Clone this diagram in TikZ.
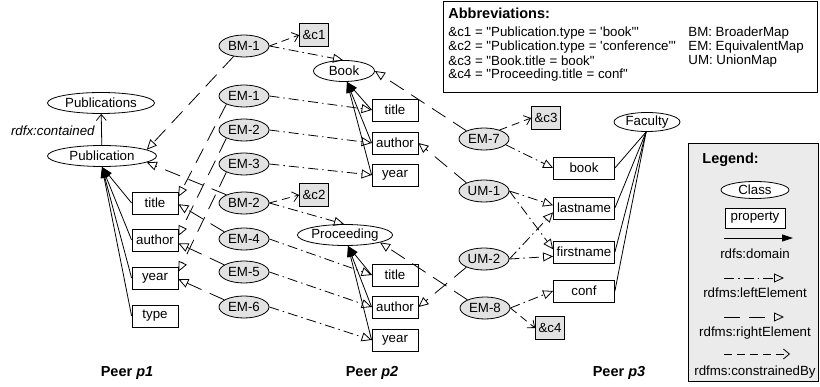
\documentclass[tikz,border=0pt]{standalone}
\usepackage{fontspec}
\setmainfont{Liberation Sans}[Ligatures=TeXOff]
\usetikzlibrary{arrows.meta,shapes.geometric}
\definecolor{mapfill}{HTML}{E2E2E2}
\definecolor{legfill}{HTML}{EBEBEB}
\begin{document}
\begin{tikzpicture}[x=1pt,y=-1pt,
  font=\fontsize{13.3}{15}\selectfont,
  line width=0.8pt,
  cls/.style={draw, ellipse, inner sep=0pt, minimum width=#1, minimum height=21pt},
  prop/.style={draw, rectangle, minimum width=#1, minimum height=22pt, inner sep=0pt},
  prop/.default=46pt,
  mapn/.style={draw, ellipse, fill=mapfill, minimum width=50pt, minimum height=22pt, inner sep=0pt},
  cons/.style={draw, fill=mapfill, minimum width=29pt, minimum height=23pt, inner sep=0pt},
  domarrow/.style={-{Triangle[length=11pt,width=7pt]}},
  leftel/.style={dash pattern=on 10pt off 4pt on 1.5pt off 4pt, -{Triangle[open,length=10pt,width=9pt]}},
  rightel/.style={dash pattern=on 16pt off 9pt, -{Triangle[open,length=10pt,width=9pt]}},
  consby/.style={dash pattern=on 8pt off 5pt, -{Straight Barb[length=6pt,width=10pt]}},
  contained/.style={-{Straight Barb[length=6pt,width=10pt]}},
  plainline/.style={},
  txt/.style={inner sep=0pt},
  peer/.style={inner sep=0pt, font=\fontsize{14.5}{16}\selectfont\bfseries}
]
\useasboundingbox (0,0) rectangle (820,387);

% ---------------- Peer p1
\node[cls=107pt] (pubs) at (101,103) {Publications};
\node[cls=109pt] (pub) at (102,156) {Publication};
\node[txt, anchor=east, font=\fontsize{13.3}{15}\selectfont\itshape] (contl) at (95,131) {rdfx:contained};
\node[prop] (t1) at (155,203) {title};
\node[prop] (a1) at (155,240) {author};
\node[prop] (y1) at (155,278) {year};
\node[prop] (ty1) at (155,316) {type};
\node[peer] (peer1) at (127,373) {Peer \textit{p1}};

\draw[contained] (pub) -- (pubs);
\foreach \n in {t1,a1,y1,ty1} \draw[domarrow] (\n.west) -- (pub.south);

% ---------------- mapping nodes (left)
\node[mapn] (bm1) at (244,46) {BM-1};
\node[mapn] (em1) at (244,96) {EM-1};
\node[mapn] (em2) at (244,130) {EM-2};
\node[mapn] (em3) at (244,164) {EM-3};
\node[mapn] (bm2) at (244,203) {BM-2};
\node[mapn] (em4) at (244,239) {EM-4};
\node[mapn] (em5) at (244,272) {EM-5};
\node[mapn] (em6) at (244,307) {EM-6};
\node[cons] (c1) at (314,35) {\&c1};
\node[cons] (c2) at (314,195) {\&c2};

% ---------------- Peer p2
\node[cls=61pt] (book) at (344,71) {Book};
\node[prop] (t2) at (395,110) {title};
\node[prop] (a2) at (395,143) {author};
\node[prop] (y2) at (395,175) {year};
\node[cls=90pt] (proc) at (345,235) {Proceeding};
\node[prop] (t3) at (395,275) {title};
\node[prop] (a3) at (395,307) {author};
\node[prop] (y3) at (395,340) {year};
\node[peer] (peer2) at (372,373) {Peer \textit{p2}};

\foreach \n in {t2,a2,y2} \draw[domarrow] (\n.west) -- (book.-75);
\foreach \n in {t3,a3,y3} \draw[domarrow] (\n.west) -- (proc.-75);

% ---------------- mapping nodes (right)
\node[mapn] (em7) at (484,139) {EM-7};
\node[mapn] (um1) at (484,191) {UM-1};
\node[mapn] (um2) at (484,259) {UM-2};
\node[mapn] (em8) at (485,308) {EM-8};
\node[cons] (c3) at (546,118) {\&c3};
\node[cons] (c4) at (550,328) {\&c4};

% ---------------- Peer p3
\node[cls=66pt, minimum height=19pt] (fac) at (647,122) {Faculty};
\node[prop=61pt] (bk3) at (584,168) {book};
\node[prop=61pt] (ln3) at (584,208) {lastname};
\node[prop=61pt] (fn3) at (584,252) {firstname};
\node[prop=61pt] (cf3) at (584,291) {conf};
\node[peer] (peer3) at (619,373) {Peer \textit{p3}};
\foreach \n in {bk3,ln3,fn3,cf3} \draw[plainline] (\n.east) -- (fac.-95);

% ---------------- connectors: left mapping nodes
\draw[rightel] (bm1.225) -- (pub.8);
\draw[leftel] (bm1.east) -- (book.95);
\draw[consby] (bm1.east) -- (c1.west);

\draw[rightel] (em1.205) -- (t1.15);
\draw[leftel] (em1.east) -- (t2.west);
\draw[rightel] (em2.205) -- (a1.10);
\draw[leftel] (em2.east) -- (a2.west);
\draw[rightel] (em3.205) -- (y1.15);
\draw[leftel] (em3.east) -- (y2.west);

\draw[rightel] (bm2.155) -- (pub.-8);
\draw[leftel] (bm2.east) -- (proc.95);
\draw[consby] (bm2.east) -- (c2.west);

\draw[rightel] (em4.160) -- (t1.-3);
\draw[leftel] (em4.east) -- (t3.west);
\draw[rightel] (em5.160) -- (a1.-8);
\draw[leftel] (em5.east) -- (a3.west);
\draw[rightel] (em6.160) -- (y1.-3);
\draw[leftel] (em6.east) -- (y3.west);

% ---------------- connectors: right mapping nodes
\draw[rightel] (em7.155) -- (book.east);
\draw[leftel] (em7.-15) -- (bk3.west);
\draw[consby] (em7.30) -- (c3.west);

\draw[rightel] (um1.155) -- (a2.east);
\draw[leftel] (um1.east) -- (ln3.175);
\draw[leftel] (um1.east) -- (fn3.175);

\draw[rightel] (um2.205) -- (a3.east);
\draw[leftel] (um2.east) -- (ln3.188);
\draw[leftel] (um2.east) -- (fn3.188);

\draw[rightel] (em8.155) -- (proc.-12);
\draw[leftel] (em8.east) -- (cf3.west);
\draw[consby] (em8.east) -- (c4.west);

% ---------------- abbreviations box
\node[draw, minimum width=374pt, minimum height=91pt, inner sep=0pt] (abbr) at (630,46.5) {};
\node[txt, anchor=west, font=\fontsize{14.5}{16}\selectfont\bfseries] (abh) at (448,13) {Abbreviations:};
\node[txt, anchor=west] (ab1) at (448,33) {\&c1 = "Publication.type = 'book'"};
\node[txt, anchor=west] (ab2) at (448,47) {\&c2 = "Publication.type = 'conference'"};
\node[txt, anchor=west] (ab3) at (448,61) {\&c3 = "Book.title = book"};
\node[txt, anchor=west] (ab4) at (448,75) {\&c4 = "Proceeding.title = conf"};
\node[txt, anchor=west] (ab5) at (688,33) {BM: BroaderMap};
\node[txt, anchor=west] (ab6) at (688,47) {EM: EquivalentMap};
\node[txt, anchor=west] (ab7) at (688,61) {UM: UnionMap};

% ---------------- legend box
\node[draw, fill=legfill, minimum width=130pt, minimum height=238pt, inner sep=0pt] (leg) at (753,262) {};
\node[txt, anchor=west, font=\fontsize{14.5}{16}\selectfont\bfseries] (legh) at (702,160) {Legend:};
\node[cls=68pt, minimum height=17pt, fill=white] (lcls) at (755,190) {Class};
\node[prop=60pt, minimum height=20pt, fill=white] (lprop) at (755,218) {property};
\coordinate (d1) at (724,238); \coordinate (d2) at (793,238);
\draw[domarrow] (d1) -- (d2);
\node[txt] (ldom) at (755,254) {rdfs:domain};
\coordinate (l1) at (724,278); \coordinate (l2) at (784,278);
\draw[leftel] (l1) -- (l2);
\node[txt] (lle) at (755,293) {rdfms:leftElement};
\coordinate (r1) at (724,317); \coordinate (r2) at (784,317);
\draw[rightel] (r1) -- (r2);
\node[txt] (lre) at (755,333) {rdfms:rightElement};
\coordinate (k1) at (724,354); \coordinate (k2) at (790,354);
\draw[consby] (k1) -- (k2);
\node[txt] (lcb) at (755,372) {rdfms:constrainedBy};
\end{tikzpicture}
\end{document}
